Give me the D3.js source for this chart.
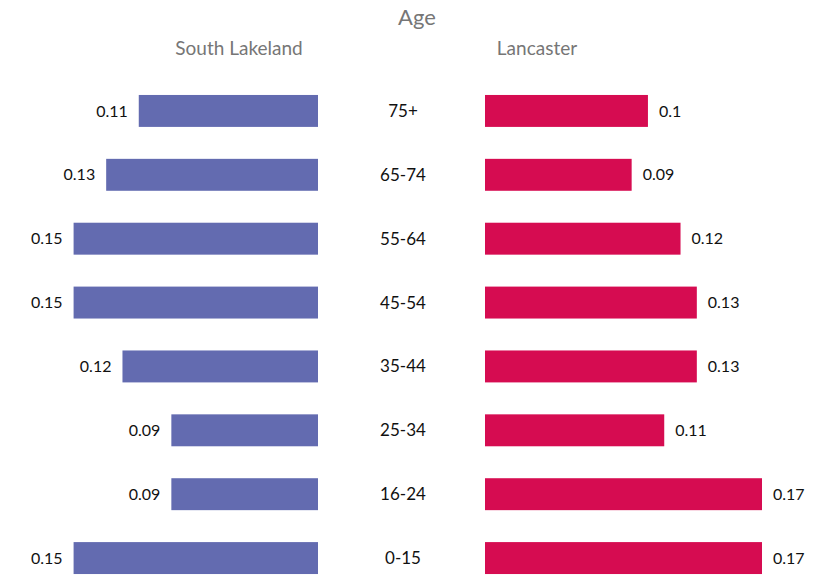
<!DOCTYPE html>
<html>
<head>
<meta charset="utf-8">
<script src="https://cdn.jsdelivr.net/npm/d3@7"></script>
<style>
  html, body { margin: 0; padding: 0; background: #fff; }
  svg { display: block; font-family: Lato, "Open Sans", sans-serif; }
</style>
</head>
<body>
<svg id="chart" width="830" height="578"></svg>
<script>
// Age groups, top to bottom
const ageGroups = ["75+", "65-74", "55-64", "45-54", "35-44", "25-34", "16-24", "0-15"];
// Share of population in each age group
const southLakeland = [0.11, 0.13, 0.15, 0.15, 0.12, 0.09, 0.09, 0.15];
const lancaster = [0.10, 0.09, 0.12, 0.13, 0.13, 0.11, 0.17, 0.17];
const regionNames = ["South Lakeland", "Lancaster"];
const chartTitle = "Age";

const svg = d3.select("#chart");
const leftColor = "#636bb0";
const rightColor = "#d60c51";

const y = d3.scaleBand()
  .domain(ageGroups)
  .range([79, 590])
  .paddingInner(0.5)
  .paddingOuter(0.25);

const maxWidth = 0.17;
const leftScale = d3.scaleLinear().domain([0, maxWidth]).range([318, 318 - 277]);
const rightScale = d3.scaleLinear().domain([0, maxWidth]).range([485, 485 + 277]);

// Titles
svg.append("text")
  .attr("x", 417).attr("y", 25)
  .attr("text-anchor", "middle")
  .attr("font-size", 22)
  .attr("fill", "#767676")
  .text(chartTitle);

svg.append("text")
  .attr("x", 239).attr("y", 55)
  .attr("text-anchor", "middle")
  .attr("font-size", 19)
  .attr("fill", "#767676")
  .text(regionNames[0]);

svg.append("text")
  .attr("x", 537).attr("y", 55)
  .attr("text-anchor", "middle")
  .attr("font-size", 19)
  .attr("fill", "#767676")
  .text(regionNames[1]);

const rows = ageGroups.map((g, i) => ({ g, left: southLakeland[i], right: lancaster[i] }));

// Left bars (extend leftwards)
svg.append("g").selectAll("rect")
  .data(rows).join("rect")
  .attr("x", d => leftScale(d.left))
  .attr("y", d => y(d.g))
  .attr("width", d => leftScale(0) - leftScale(d.left))
  .attr("height", y.bandwidth())
  .attr("fill", leftColor);

svg.append("g").selectAll("text")
  .data(rows).join("text")
  .attr("x", d => leftScale(d.left) - 11)
  .attr("y", d => y(d.g) + y.bandwidth() / 2)
  .attr("dy", "0.35em")
  .attr("text-anchor", "end")
  .attr("font-size", 16)
  .attr("fill", "#111")
  .text(d => d3.format("")(d.left));

// Right bars
svg.append("g").selectAll("rect")
  .data(rows).join("rect")
  .attr("x", rightScale(0))
  .attr("y", d => y(d.g))
  .attr("width", d => rightScale(d.right) - rightScale(0))
  .attr("height", y.bandwidth())
  .attr("fill", rightColor);

svg.append("g").selectAll("text")
  .data(rows).join("text")
  .attr("x", d => rightScale(d.right) + 11)
  .attr("y", d => y(d.g) + y.bandwidth() / 2)
  .attr("dy", "0.35em")
  .attr("text-anchor", "start")
  .attr("font-size", 16)
  .attr("fill", "#111")
  .text(d => d3.format("")(d.right));

// Category labels in the middle
svg.append("g").selectAll("text")
  .data(rows).join("text")
  .attr("x", 403)
  .attr("y", d => y(d.g) + y.bandwidth() / 2)
  .attr("dy", "0.35em")
  .attr("text-anchor", "middle")
  .attr("font-size", 17)
  .attr("fill", "#111")
  .text(d => d.g);
</script>
</body>
</html>
